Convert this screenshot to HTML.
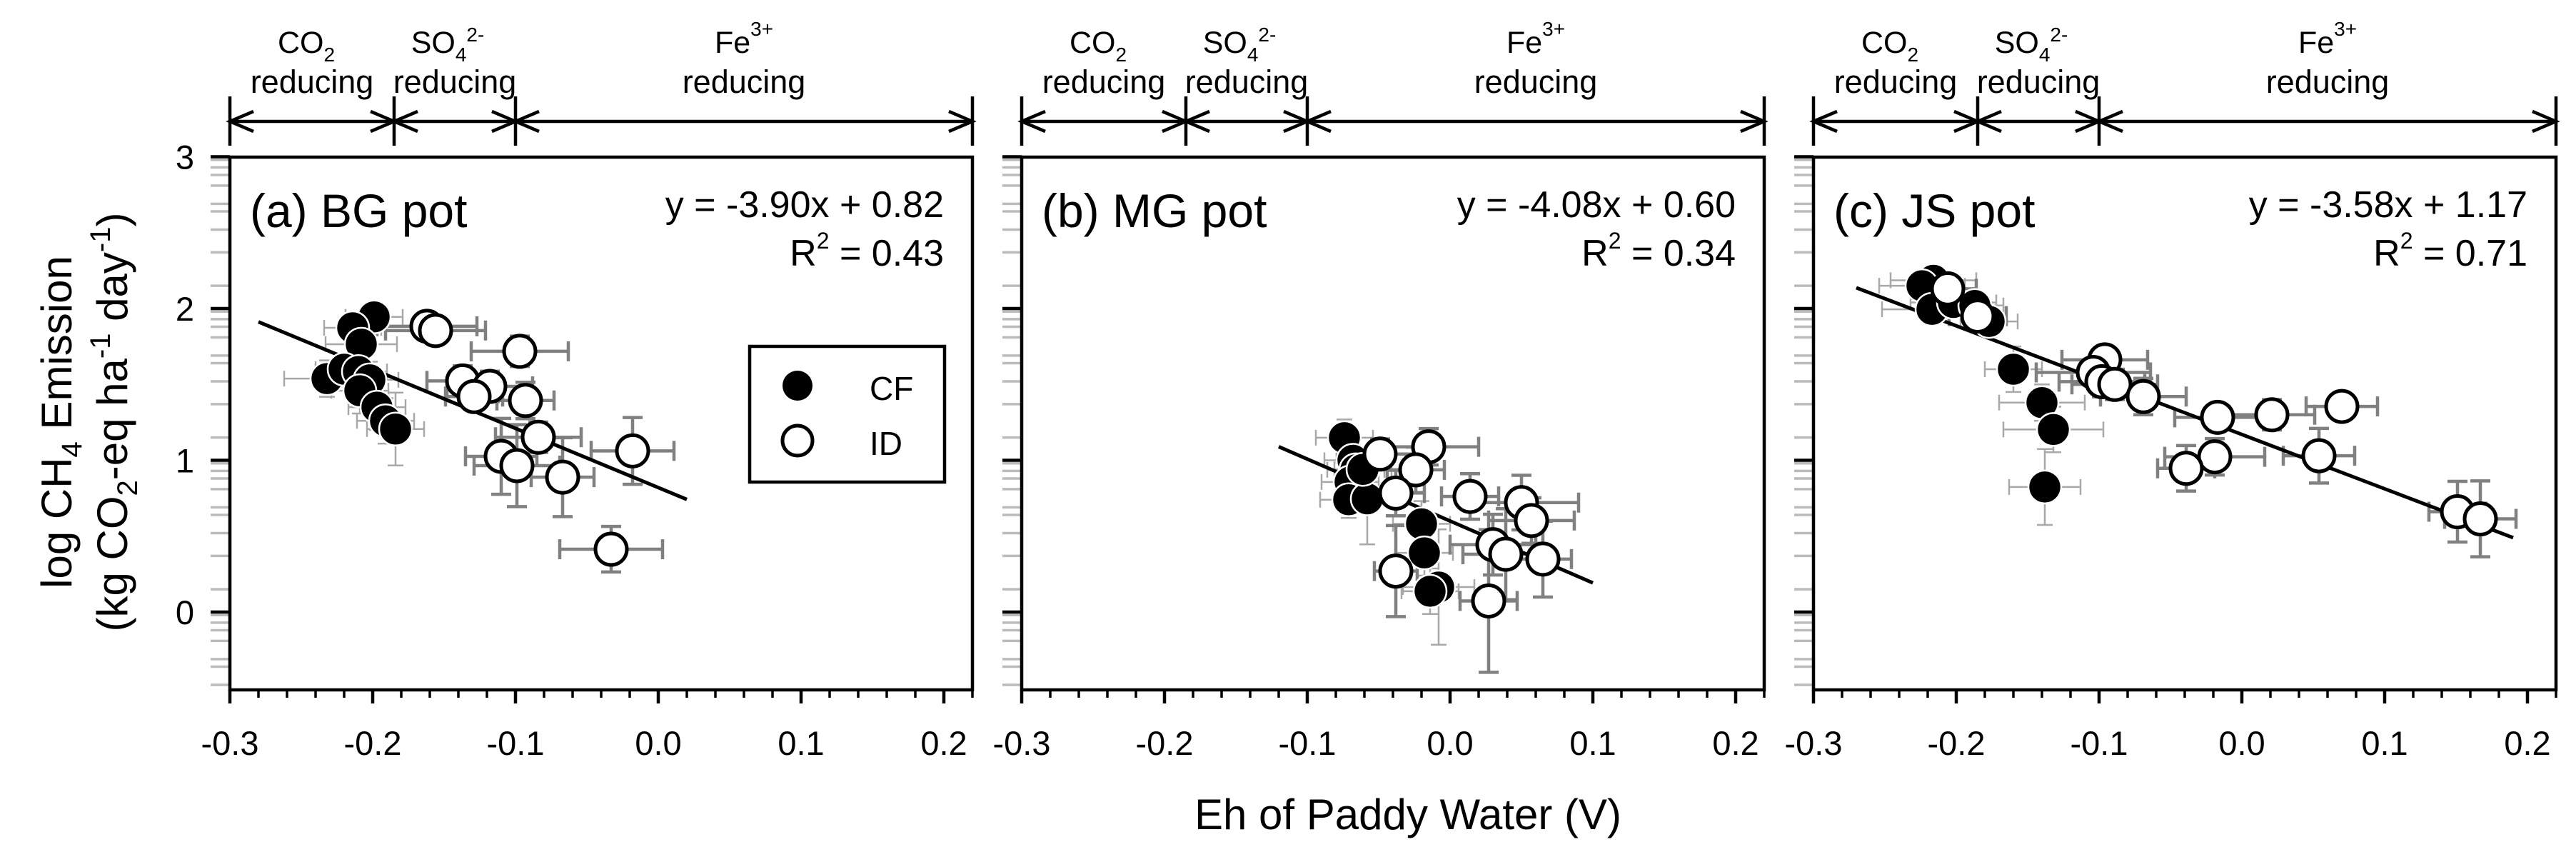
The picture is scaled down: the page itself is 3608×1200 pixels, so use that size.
<!DOCTYPE html>
<html><head><meta charset="utf-8">
<style>
html,body{margin:0;padding:0;background:#fff;}
svg{display:block;font-family:"Liberation Sans",Arial,sans-serif;}
</style></head>
<body>
<svg id="chart" width="3608" height="1200" viewBox="0 0 3608 1200" xmlns="http://www.w3.org/2000/svg"></svg>
<script>
const xTicks = [-0.3,-0.2,-0.1,0.0,0.1,0.2];
const xTickLabels = ["-0.3","-0.2","-0.1","0.0","0.1","0.2"];
const yTicks = [0,1,2,3];
const yTickLabels = ["0","1","2","3"];
const minorOffsets = [0.02,0.07,0.12,0.19,0.31,0.36,0.48,0.63,0.85];
const panelTitles = ["(a) BG pot","(b) MG pot","(c) JS pot"];
const slopes = [-3.90,-4.08,-3.58];
const intercepts = [0.82,0.60,1.17];
const r2Values = [0.43,0.34,0.71];
const fitStart = [-0.28,-0.12,-0.27];
const fitEnd = [0.02,0.10,0.19];
const regionBounds = [-0.3,-0.185,-0.1,0.22];

const aCfX = [-0.199,-0.214,-0.208,-0.232,-0.220,-0.210,-0.202,-0.209,-0.197,-0.191,-0.184];
const aCfY = [1.945,1.873,1.765,1.538,1.600,1.585,1.530,1.458,1.350,1.260,1.206];
const aCfXe = [0.02,0.02,0.025,0.03,0.02,0.02,0.02,0.02,0.02,0.02,0.02];
const aCfYe = [0.08,0.1,0.15,0.12,0.1,0.1,0.12,0.15,0.15,0.15,0.24];
const aIdX = [-0.162,-0.156,-0.097,-0.137,-0.118,-0.129,-0.093,-0.084,-0.110,-0.099,-0.067,-0.018,-0.033];
const aIdY = [1.883,1.855,1.718,1.523,1.487,1.420,1.394,1.152,1.026,0.965,0.889,1.062,0.414];
const aIdXe = [0.035,0.035,0.034,0.025,0.03,0.02,0.02,0.03,0.025,0.03,0.022,0.029,0.036];
const aIdYe = [0.05,0.05,0.1,0.1,0.1,0.08,0.12,0.1,0.25,0.27,0.26,0.22,0.15];

const bCfX = [-0.074,-0.068,-0.066,-0.070,-0.071,-0.058,-0.061,-0.020,-0.018,-0.008,-0.014];
const bCfY = [1.149,1.000,0.937,0.857,0.740,0.746,0.940,0.581,0.390,0.165,0.137];
const bCfXe = [0.02,0.02,0.02,0.02,0.02,0.02,0.02,0.02,0.02,0.025,0.02];
const bCfYe = [0.12,0.1,0.1,0.1,0.12,0.3,0.1,0.15,0.15,0.38,0.15];
const bIdX = [-0.049,-0.015,-0.024,-0.038,0.014,0.050,0.057,0.030,0.039,0.065,-0.038,0.027];
const bIdY = [1.041,1.089,0.937,0.784,0.762,0.721,0.603,0.444,0.381,0.349,0.270,0.073];
const bIdXe = [0.03,0.035,0.02,0.02,0.02,0.04,0.03,0.03,0.03,0.02,0.015,0.02];
const bIdYe = [0.1,0.12,0.15,0.15,0.15,0.18,0.15,0.2,0.3,0.25,0.3,0.47];

const cCfX = [-0.216,-0.224,-0.217,-0.202,-0.187,-0.177,-0.160,-0.140,-0.132,-0.138];
const cCfY = [2.186,2.150,1.995,2.040,2.020,1.915,1.600,1.380,1.203,0.824];
const cCfXe = [0.03,0.03,0.035,0.03,0.02,0.02,0.02,0.03,0.035,0.025];
const cCfYe = [0.05,0.05,0.08,0.05,0.05,0.1,0.15,0.12,0.15,0.25];
const cIdX = [-0.206,-0.185,-0.096,-0.104,-0.098,-0.089,-0.069,-0.017,0.021,0.070,-0.019,-0.039,0.054,0.151,0.167];
const cIdY = [2.130,1.950,1.662,1.579,1.518,1.500,1.420,1.283,1.300,1.355,1.023,0.947,1.030,0.661,0.614];
const cIdXe = [0.02,0.02,0.03,0.04,0.03,0.03,0.03,0.03,0.03,0.025,0.035,0.02,0.025,0.02,0.025];
const cIdYe = [0.05,0.05,0.08,0.08,0.1,0.1,0.12,0.06,0.1,0.05,0.12,0.15,0.18,0.2,0.25];

const panels = [
  {cfX:aCfX,cfY:aCfY,cfXe:aCfXe,cfYe:aCfYe,idX:aIdX,idY:aIdY,idXe:aIdXe,idYe:aIdYe},
  {cfX:bCfX,cfY:bCfY,cfXe:bCfXe,cfYe:bCfYe,idX:bIdX,idY:bIdY,idXe:bIdXe,idYe:bIdYe},
  {cfX:cCfX,cfY:cCfY,cfXe:cCfXe,cfYe:cCfYe,idX:cIdX,idY:cIdY,idXe:cIdXe,idYe:cIdYe}
];

const NS = "http://www.w3.org/2000/svg";
const svg = document.getElementById("chart");
const LEFTS = [322,1431,2540];
const PLOT_TOP = 220, PLOT_BOT = 966, PLOT_W = 1040;
function xs(p,v){ return LEFTS[p] + (v + 0.3) * 2000; }
function ys(v){ return 857 - v * 212.5; }

function mk(tag, attrs, parent, name, inter){
  const el = document.createElementNS(NS, tag);
  for (const k in attrs) el.setAttribute(k, attrs[k]);
  
  
  (parent || svg).appendChild(el);
  return el;
}
function line(x1,y1,x2,y2,stroke,w,name,parent){
  return mk('line',{x1:x1,y1:y1,x2:x2,y2:y2,stroke:stroke,'stroke-width':w},parent,name,false);
}
function text(x,y,str,size,anchor,name,parent){
  const t = mk('text',{x:x,y:y,'font-size':size,'text-anchor':anchor||'start',fill:'#000'},parent,name,false);
  t.textContent = str;
  return t;
}
function tspan(parent,str,size,dy,name){
  const s = document.createElementNS(NS,'tspan');
  s.setAttribute('font-size', size);
  if (dy !== null) s.setAttribute('dy', dy);
  
  
  s.textContent = str;
  parent.appendChild(s);
  return s;
}

for (let p = 0; p < 3; p++) {
  const g = mk('g',{},svg,'panel-'+['a','b','c'][p],false);
  const L = LEFTS[p];
  const ag = mk('g',{},g,'redox-zone-annotation',false);
  const AY = 170;
  for (let i = 0; i < regionBounds.length; i++) {
    line(xs(p,regionBounds[i]),135,xs(p,regionBounds[i]),204,'#000',4.5,'zone-boundary',ag);
  }
  for (let i = 0; i < regionBounds.length-1; i++) {
    const a = xs(p,regionBounds[i]), b = xs(p,regionBounds[i+1]);
    line(a,AY,b,AY,'#000',4.5,'zone-arrow-line',ag);
    mk('polyline',{points:(a+33)+','+(AY-14)+' '+a+','+AY+' '+(a+33)+','+(AY+14),fill:'none',stroke:'#000','stroke-width':4.5},ag,'zone-arrowhead-left',false);
    mk('polyline',{points:(b-33)+','+(AY-14)+' '+b+','+AY+' '+(b-33)+','+(AY+14),fill:'none',stroke:'#000','stroke-width':4.5},ag,'zone-arrowhead-right',false);
  }
  const mids = [0,1,2].map(i => (xs(p,regionBounds[i]) + xs(p,regionBounds[i+1]))/2);
  let t = text(mids[0]-8,74,'CO',43,'middle','co2-label',ag);
  tspan(t,'2',28,12,'co2-subscript');
  t = text(mids[1]-10,74,'SO',43,'middle','so4-label',ag);
  tspan(t,'4',28,12,'so4-subscript');
  tspan(t,'2-',28,-28,'so4-superscript');
  t = text(mids[2],74,'Fe',43,'middle','fe-label',ag);
  tspan(t,'3+',28,-24,'fe-superscript');
  text(mids[0],130,'reducing',45,'middle','co2-reducing-label',ag);
  text(mids[1],130,'reducing',45,'middle','so4-reducing-label',ag);
  text(mids[2],130,'reducing',45,'middle','fe-reducing-label',ag);

  for (let k = 0; k < yTicks.length; k++) {
    for (const o of minorOffsets) {
      const v = yTicks[k] - o;
      if (v > -0.5) line(L-27,ys(v),L,ys(v),'#bbbbbb',3.5,'y-minor-tick',g);
    }
    line(L-27,ys(yTicks[k]),L,ys(yTicks[k]),'#000',4.5,'y-major-tick',g);
    if (p === 0) text(272,ys(yTicks[k])+17,yTickLabels[k],47,'end','y-tick-label',g);
  }
  for (let v = -0.3; v <= 0.2201; v += 0.02) {
    const isMajor = Math.abs(Math.round(v*10) - v*10) < 1e-6;
    line(xs(p,v),PLOT_BOT,xs(p,v),PLOT_BOT + (isMajor?19:11),'#000',isMajor?4.5:3.5,isMajor?'x-major-tick':'x-minor-tick',g);
  }
  for (let k = 0; k < xTicks.length; k++) {
    text(xs(p,xTicks[k]),1057,xTickLabels[k],47,'middle','x-tick-label',g);
  }
  mk('rect',{x:L,y:PLOT_TOP,width:PLOT_W,height:PLOT_BOT-PLOT_TOP,fill:'none',stroke:'#000','stroke-width':4.5},g,'plot-frame',false);

  text(L+28,318,panelTitles[p],66,'start','panel-title',g);
  const s = slopes[p], c = intercepts[p];
  text(L+1000,304,'y = '+s.toFixed(2)+'x + '+c.toFixed(2),52,'end','regression-equation',g);
  t = text(L+1000,372,'R',52,'end','r-squared',g);
  tspan(t,'2',32,-24,'r-squared-superscript');
  tspan(t,' = '+r2Values[p].toFixed(2),52,24,'r-squared-value');

  const d = panels[p];
  const eg = mk('g',{},g,'error-bars',false);
  function errs(X,Y,XE,YE,col,w,cap,name){
    for (let i = 0; i < X.length; i++) {
      const cx = xs(p,X[i]), cy = ys(Y[i]);
      const x1 = xs(p,X[i]-XE[i]), x2 = xs(p,X[i]+XE[i]);
      const y1 = ys(Y[i]+YE[i]), y2 = ys(Y[i]-YE[i]);
      line(x1,cy,x2,cy,col,w,name+'-x',eg);
      line(x1,cy-cap,x1,cy+cap,col,w,name+'-cap',eg);
      line(x2,cy-cap,x2,cy+cap,col,w,name+'-cap',eg);
      line(cx,y1,cx,y2,col,w,name+'-y',eg);
      line(cx-cap,y1,cx+cap,y1,col,w,name+'-cap',eg);
      line(cx-cap,y2,cx+cap,y2,col,w,name+'-cap',eg);
    }
  }
  errs(d.cfX,d.cfY,d.cfXe,d.cfYe,'#a8a8a8',2.5,11,'cf-error-bar');
  errs(d.idX,d.idY,d.idXe,d.idYe,'#808080',4.5,14,'id-error-bar');
  line(xs(p,fitStart[p]),ys(s*fitStart[p]+c),xs(p,fitEnd[p]),ys(s*fitEnd[p]+c),'#000',5,'regression-line',g);
  for (let i = 0; i < d.cfX.length; i++) {
    mk('circle',{cx:xs(p,d.cfX[i]),cy:ys(d.cfY[i]),r:23,fill:'#000',stroke:'#fff','stroke-width':2.5},g,'cf-point',false);
  }
  for (let i = 0; i < d.idX.length; i++) {
    mk('circle',{cx:xs(p,d.idX[i]),cy:ys(d.idY[i]),r:22,fill:'#fff',stroke:'#000','stroke-width':5},g,'id-point',false);
  }
}

const lg = mk('g',{},svg,'legend',false);
mk('rect',{x:1050,y:485,width:273,height:190,fill:'#fff',stroke:'#000','stroke-width':4.5},lg,'legend-box',false);
mk('circle',{cx:1117,cy:540,r:21,fill:'#000'},lg,'legend-cf-marker',false);
text(1218,560,'CF',46,'start','legend-cf-label',lg);
mk('circle',{cx:1117,cy:617,r:21,fill:'#fff',stroke:'#000','stroke-width':5},lg,'legend-id-marker',false);
text(1218,637,'ID',46,'start','legend-id-label',lg);

text(1972,1161,'Eh of Paddy Water (V)',60,'middle','x-axis-title');
let yt = text(0,0,'log CH',60,'middle','y-axis-title-line1');
yt.setAttribute('transform','translate(100,591) rotate(-90)');
tspan(yt,'4',40,14,'ch4-subscript');
tspan(yt,' Emission',60,-14,'y-title-emission');
let yt2 = text(0,0,'(kg CO',60,'middle','y-axis-title-line2');
yt2.setAttribute('transform','translate(178,591) rotate(-90)');
tspan(yt2,'2',40,14,'co2-eq-subscript');
tspan(yt2,'-eq ha',60,-14,'y-title-eq-ha');
tspan(yt2,'-1',40,-24,'ha-superscript');
tspan(yt2,' day',60,24,'y-title-day');
tspan(yt2,'-1',40,-24,'day-superscript');
tspan(yt2,')',60,24,'y-title-close');
</script>
</body></html>
